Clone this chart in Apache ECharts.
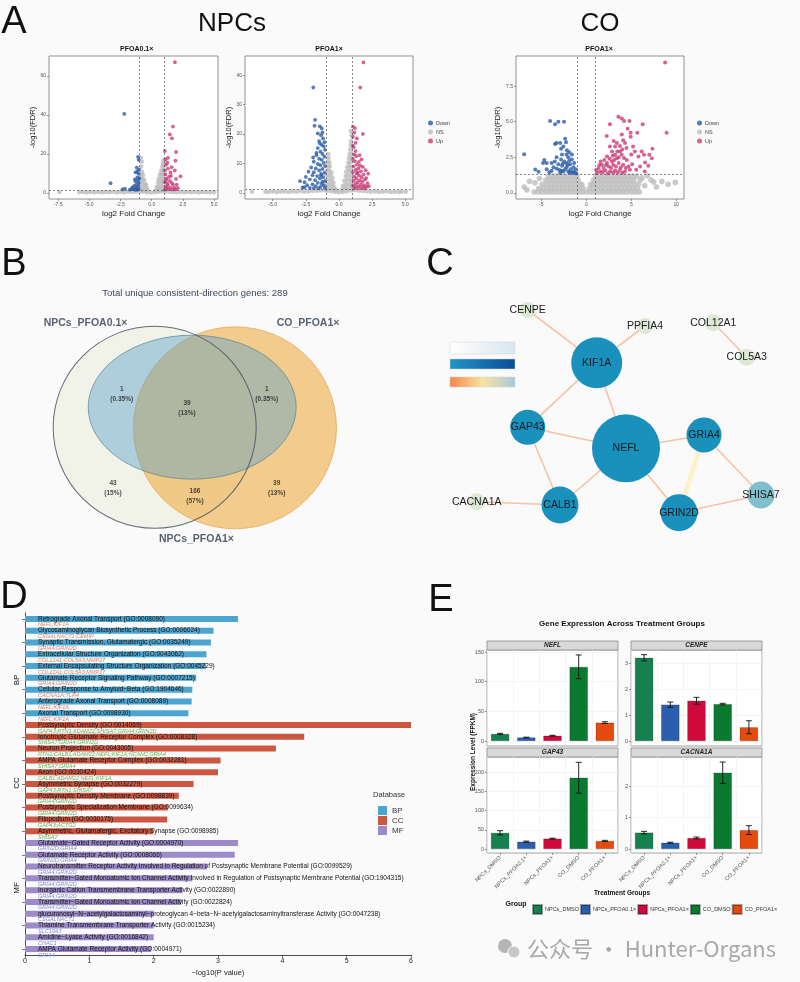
<!DOCTYPE html>
<html>
<head>
<meta charset="utf-8">
<script src="https://cdn.jsdelivr.net/npm/echarts@6/dist/echarts.min.js"></script>
<style>
  html, body { margin: 0; padding: 0; background: #fafafa; }
  #fig { width: 800px; height: 982px; }
</style>
</head>
<body>
<div id="fig"></div>
<script>
// ---------- A: volcano plots, points are [log2 fold change, -log10(FDR)]
const npc01Down = [[-2.2,40.5],[-3.3,5],[-2.35,1.8],[-2.15,2.2],[-1.75,1.7],[-1.1,18.5],[-1.05,17],[-1.2,13],[-1.3,10.5],[-1.05,9.8],[-1.15,8],[-1.1,6.5],[-1.3,5.8],[-1.05,5],[-1.2,4.2],[-1.4,3.6],[-1.1,3.2],[-1.55,2.8],[-1.25,2.5],[-1.05,2.1],[-1.45,1.9],[-1.3,1.6],[-1.15,1.7],[-1.6,2.0],[-1.0,7.5],[-1.35,7],[-1.02,12],[-1.15,11]];
const npc01Up = [[1.86,67],[1.7,34],[1.45,30],[1.62,28],[1.05,21.5],[1.95,21],[2.3,8.5],[1.85,11.5],[1.9,16.5],[1.3,18],[1.1,17.2],[1.15,14.5],[1.3,12.5],[1.5,10.5],[1.1,9.5],[1.2,7.5],[1.45,6.2],[1.6,5.2],[1.05,5.5],[1.3,3.8],[1.5,2.6],[1.8,2.6],[2.1,2.5],[1.2,2.2],[1.7,4.2],[1.4,8.3],[1.05,11.5],[1.25,15.5],[1.6,13.2],[1.95,7.2],[2.0,4.2],[1.1,3.2],[1.35,2.0],[1.65,1.8],[1.05,1.7],[1.9,1.9],[1.25,4.8],[1.55,8.8],[1.15,6.5]];
const npc01Ns = [[-7.4,0.5],[-5.8,0.4],[-5.5,0.5],[-5.2,0.3],[-4.9,0.5],[-4.6,0.4],[-4.3,0.5],[-4.0,0.3],[-3.7,0.5],[-3.4,0.4],[-3.1,0.6],[-2.8,0.3],[-2.5,0.5],[-2.2,0.4],[-1.9,0.6],[-1.6,0.5],[-1.3,0.7],[-1.0,0.8],[-0.7,0.6],[-0.4,0.3],[-0.1,0.2],[0.2,0.3],[0.5,0.5],[0.8,0.8],[1.1,0.7],[1.4,0.6],[1.7,0.5],[2.0,0.4],[2.3,0.5],[2.6,0.3],[2.9,0.5],[3.2,0.4],[3.5,0.5],[3.8,0.3],[4.1,0.5],[4.4,0.4],[4.7,0.3],[5.0,0.4],
  [-1.0,1.6],[-0.8,1.5],[-0.6,1.4],[-0.4,1.2],[-0.95,3.5],[-0.75,3.2],[-0.55,3],[-0.35,2.2],[-0.95,5.5],[-0.75,5.2],[-0.55,4.8],[-0.45,4],[-0.9,7.4],[-0.75,7.0],[-0.6,6.6],[-0.85,9.2],[-0.7,9.0],[-0.78,10.8],[-0.85,13.5],[-0.8,16],[-0.88,18],
  [0.3,1.2],[0.45,1.8],[0.6,1.6],[0.8,1.7],[0.95,1.5],[0.4,3],[0.55,3.4],[0.75,3.6],[0.95,3.3],[0.5,5.2],[0.65,5.6],[0.85,5.4],[0.97,5.8],[0.55,7.2],[0.75,7.6],[0.9,7.4],[0.65,9.3],[0.8,9.6],[0.95,9.4],[0.75,11.4],[0.9,11.6],[0.85,13.4],[0.95,13.6],[0.9,15.2],[0.95,16.8]];

const npc1Down = [[-1.94,35.8],[-1.8,24.8],[-1.85,22.8],[-1.45,22.6],[-1.3,21.9],[-1.25,20.5],[-1.35,19.6],[-1.2,18.5],[-1.5,17.6],[-1.1,17.2],[-1.3,16.3],[-1.15,15.8],[-1.6,15.2],[-1.05,14.6],[-1.4,14],[-1.25,13.2],[-1.7,12.8],[-1.1,12.3],[-1.5,11.6],[-1.3,11.2],[-1.9,10.6],[-1.15,10.2],[-1.6,9.8],[-1.4,9.4],[-1.05,9.1],[-2.1,8.6],[-1.75,8.3],[-1.25,8.1],[-1.5,7.6],[-2.3,7.2],[-1.9,7.0],[-1.1,6.8],[-1.35,6.4],[-2.0,6.0],[-1.65,5.7],[-2.5,5.4],[-1.2,5.3],[-1.45,4.9],[-2.2,4.6],[-1.8,4.3],[-2.94,4.0],[-1.05,4.0],[-2.6,3.6],[-1.6,3.4],[-1.3,3.1],[-2.0,2.9],[-2.4,2.6],[-1.15,2.5],[-1.75,2.3],[-2.6,1.9],[-1.4,2.0],[-2.2,1.7],[-1.9,1.6],[-1.05,1.7],[-1.55,1.5],[-2.75,1.8],[-1.6,20.2],[-1.7,13.6],[-1.95,12],[-1.45,16.8],[-1.35,5.9],[-1.25,3.8]];
const npc1Up = [[1.84,44.3],[1.6,35.8],[1.8,20],[1.05,22.5],[1.2,22],[1.15,20.5],[1.05,19],[1.35,18.5],[1.25,17],[1.05,16],[1.1,15.5],[1.15,13],[1.3,12.5],[1.05,11.5],[1.2,10.7],[1.5,10.5],[1.35,9.6],[1.6,9.2],[1.1,9.0],[1.8,8.8],[1.45,8.3],[1.25,7.8],[2.0,7.7],[1.65,7.3],[1.05,7.0],[1.35,6.6],[2.2,6.5],[1.85,6.2],[1.5,5.9],[1.15,5.6],[1.7,5.3],[2.05,5.0],[1.3,4.9],[1.95,4.5],[1.55,4.2],[1.1,4.1],[1.75,3.8],[1.4,3.5],[2.15,3.3],[1.25,3.0],[1.65,2.8],[1.9,2.6],[1.05,2.5],[1.45,2.2],[2.1,2.1],[1.8,1.9],[1.3,1.7],[1.6,1.6],[2.25,2.3],[1.15,1.8],[1.95,1.5],[1.4,6.9],[1.7,11.4],[1.25,14.2],[1.55,12.8]];
const npc1Ns = [[-6.57,0.4],[-5.55,0.4],[-5.3,0.3],[-5.0,0.5],[-4.7,0.3],[-4.4,0.4],[-4.1,0.5],[-3.8,0.3],[-3.5,0.5],[-3.2,0.4],[-2.9,0.6],[-2.6,0.4],[-2.3,0.5],[-2.0,0.6],[-1.7,0.7],[-1.4,0.8],[-1.15,0.9],[-0.9,0.7],[-0.6,0.5],[-0.3,0.3],[0,0.2],[0.3,0.3],[0.6,0.5],[0.9,0.8],[1.2,0.9],[1.5,0.7],[1.8,0.6],[2.1,0.5],[2.4,0.4],[2.7,0.5],[3.0,0.3],[3.3,0.4],[3.6,0.5],[3.9,0.3],[4.2,0.4],[4.5,0.3],[4.7,0.4],[5.03,0.4],
  [-1.0,1.5],[-0.8,1.6],[-0.6,1.3],[-0.4,1.1],[-0.2,0.9],[-0.95,2.8],[-0.75,3],[-0.55,2.6],[-0.35,2.0],[-0.95,4.3],[-0.75,4.5],[-0.55,4.1],[-0.42,3.4],[-0.9,5.9],[-0.7,6.0],[-0.5,5.2],[-0.92,7.4],[-0.72,7.5],[-0.57,6.8],[-0.85,8.9],[-0.7,9.0],[-0.85,10.5],[-0.72,10.3],[-0.8,11.8],[-0.82,13.2],
  [0.2,1],[0.4,1.6],[0.6,1.5],[0.8,1.7],[0.98,1.5],[0.3,2.4],[0.5,2.9],[0.7,3],[0.9,2.8],[0.4,4.1],[0.6,4.4],[0.8,4.5],[0.95,4.2],[0.5,5.7],[0.7,6],[0.9,5.8],[0.55,7.2],[0.75,7.5],[0.92,7.3],[0.62,8.7],[0.8,9],[0.95,8.8],[0.7,10.2],[0.88,10.5],[0.75,11.7],[0.92,12],[0.8,13.2],[0.95,13.4],[0.85,14.7],[0.9,16.2],[0.92,17.5],[0.96,19.6],[0.9,21]];

const coDown = [[-4.02,5.05],[-3.47,4.83],[-3.1,5.0],[-2.47,5.0],[-6.9,2.72],[-5.67,1.64],[-5.3,1.48],[-4.67,2.3],[-4.4,2.1],[-3.47,3.43],[-2.9,3.5],[-2.35,3.8],[-2.25,3.55],[-2.55,3.25],[-1.6,2.7],[-2.2,2.7],[-2.7,2.7],[-3.3,2.5],[-3.85,2.1],[-3.65,1.8],[-3.1,2.0],[-2.7,1.9],[-2.2,2.1],[-1.8,2.0],[-1.43,1.8],[-2.0,1.5],[-2.55,1.5],[-2.9,1.4],[-3.3,1.7],[-2.2,1.8],[-1.6,1.4],[-1.25,1.4],[-3.85,1.55],[-4.4,1.65],[-4.8,2.1],[-1.6,2.35],[-2.0,2.5],[-1.15,1.65],[-2.45,2.2],[-1.9,2.25],[-2.8,2.35],[-3.0,1.6],[-2.35,1.65],[-1.75,1.65],[-1.35,2.1],[-2.05,1.95],[-2.6,2.05],[-3.5,2.2],[-1.1,1.35],[-1.45,1.5],[-2.75,1.55],[-1.85,1.4],[-4.1,1.45],[-2.15,3.0],[-2.8,3.1],[-3.3,3.5],[-1.9,2.85]];
const coUp = [[8.76,9.18],[8.93,4.23],[3.57,5.35],[3.94,5.23],[4.2,5.05],[4.8,5.05],[2.63,4.83],[6.27,4.83],[5.67,4.23],[4.93,4.23],[2.27,4.0],[4.93,3.95],[4.1,3.7],[3.2,3.25],[3.74,3.3],[2.63,3.25],[4.47,3.15],[5.2,3.25],[6.16,2.9],[7.35,3.1],[6.42,2.67],[7.0,2.67],[6.53,2.13],[7.28,2.43],[5.8,2.55],[5.98,1.85],[5.55,1.62],[4.5,2.3],[3.94,2.67],[3.4,2.43],[2.85,2.2],[2.3,2.1],[1.74,1.97],[1.37,1.74],[1.93,1.74],[2.5,1.85],[3.0,1.97],[3.6,2.1],[4.1,1.97],[4.7,1.85],[1.55,1.5],[2.1,1.57],[2.65,1.5],[3.2,1.57],[3.74,1.62],[4.3,1.5],[4.85,1.62],[3.2,2.67],[3.74,2.9],[3.4,3.5],[4.3,3.5],[2.85,2.9],[2.3,2.55],[1.2,1.4],[1.8,1.45],[2.4,1.38],[3.0,1.42],[3.5,1.45],[4.0,1.4],[2.0,2.3],[2.6,2.4],[3.1,2.3],[3.6,2.5],[4.2,2.45],[1.6,2.2],[2.2,1.95],[2.75,1.75],[3.3,1.85],[3.85,1.8],[4.4,1.75],[5.1,2.0],[1.1,1.6],[1.45,1.95],[2.95,2.6],[3.45,2.9],[4.0,3.05],[5.0,2.7],[6.5,1.5],[6.9,1.9],[5.4,2.9],[3.05,3.65],[3.95,4.1],[4.6,4.5]];
// not significant genes in CO, typed row by row: [-log10 FDR, log2FC values]
const coNsRows = [
  [0.05, [-5.8,-5.35,-4.9,-4.45,-4.0,-3.55,-3.1,-2.65,-2.2,-1.75,-1.3,-0.85,-0.4,0.05,0.5,0.95,1.4,1.85,2.3,2.75,3.2,3.65,4.1,4.55,5.0,5.45,5.9]],
  [0.3, [-5.3,-4.8,-4.35,-3.9,-3.45,-3.0,-2.55,-2.1,-1.65,-1.2,-0.75,-0.35,0.35,0.75,1.2,1.65,2.1,2.55,3.0,3.45,3.9,4.35,4.8,5.25,5.7]],
  [0.6, [-4.9,-4.4,-3.95,-3.5,-3.05,-2.6,-2.15,-1.7,-1.25,-0.8,-0.5,0.5,0.8,1.25,1.7,2.15,2.6,3.05,3.5,3.95,4.4,4.85,5.3,5.8]],
  [0.9, [-4.5,-4.05,-3.6,-3.15,-2.7,-2.25,-1.8,-1.35,-0.9,0.8,1.25,1.7,2.15,2.6,3.05,3.5,3.95,4.4,4.85,5.3,6.0]],
  [1.18, [-4.2,-3.75,-3.3,-2.85,-2.4,-1.95,-1.5,-1.05,1.05,1.5,1.95,2.4,2.85,3.3,3.75,4.2,4.65,5.1,5.6]]
];
const coNsExtra = [[-6.9,0.4],[-6.3,0.8],[-5.7,0.7],[-6.6,0.2],[6.8,1.2],[7.2,0.9],[7.5,0.75],[8.4,0.8],[9.1,0.6],[9.9,0.73],[6.5,0.5],[7.8,0.4],[-5.2,1.0],[6.2,1.05]];
const coNs = coNsRows.flatMap(([y, xs]) => xs.map(x => [x, y])).concat(coNsExtra);

// ---------- B: Venn
const vennSets = ['NPCs_PFOA0.1×', 'NPCs_PFOA1×', 'CO_PFOA1×'];
// regions: A∩B, A∩B∩C, B∩C, A only, A∩C, C only
const vennCounts = [1, 39, 1, 43, 166, 39];

// ---------- C: PPI network
const netNodes = ['NEFL', 'KIF1A', 'GAP43', 'GRIA4', 'CALB1', 'GRIN2D', 'SHISA7', 'CENPE', 'PPFIA4', 'COL12A1', 'COL5A3', 'CACNA1A'];
const netEdges = [['CENPE','KIF1A'],['PPFIA4','KIF1A'],['COL12A1','COL5A3'],['KIF1A','GAP43'],['KIF1A','NEFL'],['GAP43','NEFL'],['GAP43','CALB1'],['CALB1','NEFL'],['CACNA1A','CALB1'],['NEFL','GRIA4'],['NEFL','GRIN2D'],['GRIA4','GRIN2D'],['GRIA4','SHISA7'],['GRIN2D','SHISA7']];

// ---------- D: GO enrichment
const goTerms = [
  'Retrograde Axonal Transport (GO:0008090)',
  'Glycosaminoglycan Biosynthetic Process (GO:0006024)',
  'Synaptic Transmission, Glutamatergic (GO:0035249)',
  'Extracellular Structure Organization (GO:0043062)',
  'External Encapsulating Structure Organization (GO:0045229)',
  'Glutamate Receptor Signaling Pathway (GO:0007215)',
  'Cellular Response to Amyloid−Beta (GO:1904646)',
  'Anterograde Axonal Transport (GO:0008089)',
  'Axonal Transport (GO:0098930)',
  'Postsynaptic Density (GO:0014069)',
  'Ionotropic Glutamate Receptor Complex (GO:0008328)',
  'Neuron Projection (GO:0043005)',
  'AMPA Glutamate Receptor Complex (GO:0032281)',
  'Axon (GO:0030424)',
  'Asymmetric Synapse (GO:0032279)',
  'Postsynaptic Density Membrane (GO:0098839)',
  'Postsynaptic Specialization Membrane (GO:0099634)',
  'Filopodium (GO:0030175)',
  'Asymmetric, Glutamatergic, Excitatory Synapse (GO:0098985)',
  'Glutamate−Gated Receptor Activity (GO:0004970)',
  'Glutamate Receptor Activity (GO:0008066)',
  'Neurotransmitter Receptor Activity Involved in Regulation of Postsynaptic Membrane Potential (GO:0099529)',
  'Transmitter−Gated Monoatomic Ion Channel Activity Involved in Regulation of Postsynaptic Membrane Potential (GO:1904315)',
  'Inorganic Cation Transmembrane Transporter Activity (GO:0022890)',
  'Transmitter−Gated Monoatomic Ion Channel Activity (GO:0022824)',
  'glucuronosyl−N−acetylgalactosaminyl−proteoglycan 4−beta−N−acetylgalactosaminyltransferase Activity (GO:0047238)',
  'Thiamine Transmembrane Transporter Activity (GO:0015234)',
  'Amidine−Lyase Activity (GO:0016842)',
  'AMPA Glutamate Receptor Activity (GO:0004971)'
];
const goGenes = ['NEFL;KIF1A','CSGALNACT1;CEMIP','GRIA4;GRIN2D','COL12A1;COL5A3;MMP17','COL12A1;COL5A3;MMP17','GRIA4;GRIN2D','CACNA1A;TLR4','NEFL;KIF1A','NEFL;KIF1A',
  'GAP43;RTN1;ADAM22;SHISA7;GRIA4;GRIN2D','SHISA7;GRIA4;GRIN2D','RTN1;CALB1;ADAM22;NEFL;KIF1A;NCAM2;GRIA4','SHISA7;GRIA4','CALB1;ADAM22;NEFL;KIF1A','GAP43;RTN1;SHISA7','GRIA4;GRIN2D','GRIA4;GRIN2D','GAP43;ACTG2','SHISA7',
  'GRIN2D;GRIA4','GRIN2D;GRIA4','GRIA4;GRIN2D','GRIA4;GRIN2D','GRIA4;GRIN2D','GRIA4;GRIN2D','CSGALNACT1','SLC19A3','CHAC1','GRIA4'];
const goValues = [3.31, 2.93, 2.89, 2.82, 2.81, 2.66, 2.6, 2.59, 2.54, 6.0, 4.34, 3.9, 3.04, 3.0, 2.62, 2.39, 2.22, 2.21, 1.99, 3.31, 3.26, 2.83, 2.6, 2.45, 2.43, 2.0, 2.0, 2.0, 1.96];
const goDb = ['BP','BP','BP','BP','BP','BP','BP','BP','BP','CC','CC','CC','CC','CC','CC','CC','CC','CC','CC','MF','MF','MF','MF','MF','MF','MF','MF','MF','MF'];
const dbNames = ['BP', 'CC', 'MF'];

// ---------- E: expression (FPKM), mean and error
const exprGroups = ['NPCs_DMSO', 'NPCs_PFOA0.1×', 'NPCs_PFOA1×', 'CO_DMSO', 'CO_PFOA1×'];
const exprGenes = ['NEFL', 'CENPE', 'GAP43', 'CACNA1A'];
const neflMean = [12, 6, 9, 125, 31];
const neflErr = [1, 0.5, 0.6, 20, 1.5];
const cenpeMean = [3.2, 1.4, 1.55, 1.42, 0.53];
const cenpeErr = [0.12, 0.1, 0.13, 0.03, 0.25];
const gap43Mean = [42, 19, 27, 185, 21];
const gap43Err = [5.5, 1.5, 1, 40, 1.5];
const cacna1aMean = [0.52, 0.2, 0.35, 2.42, 0.6];
const cacna1aErr = [0.04, 0.015, 0.03, 0.34, 0.14];

// ================= layout & style =================
const FONT = 'Liberation Sans, Arial, sans-serif';
const colDown = '#2b5ca8', colNs = '#bdbdbd', colUp = '#cc3b78';
const dbColors = { BP: '#4ca5ce', CC: '#cb5642', MF: '#9d8ac9' };
const dbGeneColors = { BP: '#e8806c', CC: '#5db75d', MF: '#7d92cc' };
const exprColors = ['#17804f', '#2b5fad', '#cf0b3e', '#0b7a31', '#e54b0f'];

const volcanoGrids = [
  { left: 49, top: 56, width: 169, height: 143 },
  { left: 245, top: 56, width: 168, height: 143 },
  { left: 516, top: 56, width: 168, height: 143 }
];
const volcanoAxes = [
  { x: [-8.23, 5.31], y: [-3.1, 70.2], xt: [-7.5, -5, -2.5, 0, 2.5, 5], yt: [0, 20, 40, 60], xf: v => v.toFixed(1), yf: v => v },
  { x: [-7.09, 5.58], y: [-2.1, 46.5], xt: [-5, -2.5, 0, 2.5, 5], yt: [0, 10, 20, 30, 40], xf: v => v.toFixed(1), yf: v => v },
  { x: [-7.81, 10.86], y: [-0.44, 9.63], xt: [-5, 0, 5, 10], yt: [0, 2.5, 5, 7.5], xf: v => v, yf: v => v.toFixed(1) }
];
const volcanoData = [[npc01Down, npc01Ns, npc01Up], [npc1Down, npc1Ns, npc1Up], [coDown, coNs, coUp]];
const volcanoSizes = [[3.8, 4.6], [3.8, 4.6], [4.0, 5.6]]; // [coloured, grey]

const vennLayout = {
  shapes: [{ c: [154.7, 187.3], s: [203, 202] }, { c: [192.2, 167.2], s: [208, 144] }, { c: [235, 187.8], s: [203, 202] }],
  regions: [[121.7, 154], [187, 168], [266.7, 154], [113, 248], [195, 256], [276.7, 248]],
  setLabels: [[85.5, 83], [196.5, 299], [308, 83]]
};
const netLayout = {
  NEFL: [226, 208.3, 68], KIF1A: [196.7, 122.7, 51], GAP43: [127.7, 187.3, 35], GRIA4: [304, 195, 35],
  CALB1: [160, 265, 37], GRIN2D: [279, 272.7, 37], SHISA7: [361, 255, 27], CENPE: [127.7, 70, 16],
  PPFIA4: [245, 86, 16], COL12A1: [313.3, 82.7, 17], COL5A3: [346.7, 117.3, 17], CACNA1A: [76.7, 261.7, 17]
};
const facetGrids = [
  { left: 487, top: 650, width: 131, height: 96 },
  { left: 631, top: 650, width: 131, height: 96 },
  { left: 487, top: 757, width: 131, height: 96 },
  { left: 631, top: 757, width: 131, height: 96 }
];
const facetY = [
  { r: [-8.4, 153.4], t: [0, 50, 100, 150] },
  { r: [-0.19, 3.5], t: [0, 1, 2, 3] },
  { r: [-10.4, 239], t: [0, 50, 100, 150, 200] },
  { r: [-0.127, 2.92], t: [0, 1, 2] }
];
const facetMeans = [neflMean, cenpeMean, gap43Mean, cacna1aMean];
const facetErrs = [neflErr, cenpeErr, gap43Err, cacna1aErr];

// ================= build option =================
const grids = [], xAxes = [], yAxes = [], series = [], g = [];

// A
volcanoGrids.forEach((gr, k) => {
  const ax = volcanoAxes[k];
  grids.push(Object.assign({ show: true, backgroundColor: '#fff', borderColor: '#777', borderWidth: 0.8, outerBoundsMode: 'none' }, gr));
  xAxes.push({
    type: 'value', gridIndex: k, min: ax.x[0], max: ax.x[1],
    name: 'log2 Fold Change', nameLocation: 'middle', nameGap: 11,
    nameTextStyle: { fontSize: 8, color: '#222', fontFamily: FONT },
    axisLine: { show: false, onZero: false },
    axisTick: { show: true, length: 2, customValues: ax.xt, lineStyle: { color: '#555', width: 0.6 } },
    axisLabel: { customValues: ax.xt, fontSize: 5, color: '#555', margin: 3, formatter: ax.xf, fontFamily: FONT },
    splitLine: { show: false }
  });
  yAxes.push({
    type: 'value', gridIndex: k, min: ax.y[0], max: ax.y[1],
    name: '-log10(FDR)', nameLocation: 'middle', nameGap: 9,
    nameTextStyle: { fontSize: 7.5, color: '#222', fontFamily: FONT },
    axisLine: { show: false, onZero: false },
    axisTick: { show: true, length: 2, customValues: ax.yt, lineStyle: { color: '#555', width: 0.6 } },
    axisLabel: { customValues: ax.yt, fontSize: 5, color: '#555', margin: 3, formatter: ax.yf, fontFamily: FONT },
    splitLine: { show: false }
  });
  const [sz, szNs] = volcanoSizes[k];
  const [dn, ns, up] = volcanoData[k];
  series.push({
    type: 'scatter', name: 'NS', xAxisIndex: k, yAxisIndex: k, data: ns, symbolSize: szNs,
    itemStyle: { color: colNs }, silent: true, z: 2,
    markLine: {
      silent: true, symbol: 'none', label: { show: false },
      lineStyle: { color: '#555', type: [2, 2], width: 0.7 },
      data: [{ xAxis: -1 }, { xAxis: 1 }, { yAxis: 1.3 }]
    }
  });
  series.push({ type: 'scatter', name: 'Down', xAxisIndex: k, yAxisIndex: k, data: dn, symbolSize: sz, itemStyle: { color: colDown }, silent: true, z: 3 });
  series.push({ type: 'scatter', name: 'Up', xAxisIndex: k, yAxisIndex: k, data: up, symbolSize: sz, itemStyle: { color: colUp }, silent: true, z: 3 });
});

// B: Venn (grid 3, axes in px offsets from panel corner)
grids.push({ left: 0, top: 240, width: 400, height: 340, outerBoundsMode: 'none' });
xAxes.push({ type: 'value', gridIndex: 3, min: 0, max: 400, show: false });
yAxes.push({ type: 'value', gridIndex: 3, min: 0, max: 340, inverse: true, show: false });
const vennStyles = [
  { color: '#eff1e5', borderColor: 'transparent', borderWidth: 0 },
  { color: 'rgba(90,160,200,0.55)', borderColor: '#4a7d94', borderWidth: 0.8 },
  { color: 'rgba(240,176,80,0.8)', borderColor: 'rgba(225,150,50,0.9)', borderWidth: 0.8 }
];
[0, 2, 1].forEach((i, z) => {
  series.push({
    type: 'scatter', xAxisIndex: 3, yAxisIndex: 3, silent: true, z: 1 + z,
    data: [{ value: vennLayout.shapes[i].c, symbolSize: vennLayout.shapes[i].s, itemStyle: vennStyles[i] }]
  });
});
series.push({
  type: 'scatter', xAxisIndex: 3, yAxisIndex: 3, silent: true, z: 5,
  data: [{ value: vennLayout.shapes[0].c, symbolSize: vennLayout.shapes[0].s,
    itemStyle: { color: 'transparent', borderColor: '#3f4b5c', borderWidth: 1 } }]
});
const vennTotal = vennCounts.reduce((a, b) => a + b, 0);
const pct = c => { const p = c / vennTotal * 100; return p < 1 ? p.toFixed(2) + '%' : Math.round(p) + '%'; };
series.push({
  type: 'scatter', xAxisIndex: 3, yAxisIndex: 3, silent: true, z: 6, symbolSize: 0,
  data: vennCounts.map((c, i) => ({ value: vennLayout.regions[i], name: c + '\n(' + pct(c) + ')' })),
  label: { show: true, position: 'inside', formatter: p => p.name, fontSize: 6.5, fontWeight: 'bold', lineHeight: 10, color: '#222', fontFamily: FONT }
});
series.push({
  type: 'scatter', xAxisIndex: 3, yAxisIndex: 3, silent: true, z: 6, symbolSize: 0,
  data: vennSets.map((s, i) => ({ value: vennLayout.setLabels[i], name: s })),
  label: { show: true, position: 'inside', formatter: p => p.name, fontSize: 10.5, fontWeight: 'bold', color: '#2d3a4c', fontFamily: FONT }
});

// C: network (grid 4)
grids.push({ left: 400, top: 240, width: 400, height: 340, outerBoundsMode: 'none' });
xAxes.push({ type: 'value', gridIndex: 4, min: 0, max: 400, show: false });
yAxes.push({ type: 'value', gridIndex: 4, min: 0, max: 340, inverse: true, show: false });
const degree = {};
netEdges.forEach(([a, b]) => { degree[a] = (degree[a] || 0) + 1; degree[b] = (degree[b] || 0) + 1; });
series.push({
  type: 'graph', layout: 'none', coordinateSystem: 'cartesian2d', xAxisIndex: 4, yAxisIndex: 4, silent: true, z: 3,
  data: netNodes.map(n => ({
    name: n, value: [netLayout[n][0], netLayout[n][1]], symbolSize: netLayout[n][2],
    itemStyle: { color: degree[n] >= 3 ? '#1a90bd' : degree[n] === 2 ? '#82bfcc' : '#dde8d4' }
  })),
  links: netEdges.map(([a, b]) => (a === 'GRIA4' && b === 'GRIN2D')
    ? { source: a, target: b, lineStyle: { width: 5, color: '#fbf1cf' } }
    : { source: a, target: b }),
  lineStyle: { color: '#f6c3a6', width: 1.6, opacity: 1, curveness: 0 },
  label: { show: true, position: 'inside', fontSize: 10.5, color: '#1a1a1a', fontFamily: FONT },
  emphasis: { disabled: true }
});

// D: GO bars (grid 5)
grids.push({ left: 25, top: 613, width: 386, height: 342, outerBoundsMode: 'none' });
xAxes.push({
  type: 'value', gridIndex: 5, min: 0, max: 6, interval: 1,
  name: '−log10(P value)', nameLocation: 'middle', nameGap: 14,
  nameTextStyle: { fontSize: 7.5, color: '#222', fontFamily: FONT },
  axisLine: { show: true, onZero: false, lineStyle: { color: '#222', width: 0.8 } },
  axisTick: { show: true, length: 3, lineStyle: { color: '#222', width: 0.6 } },
  axisLabel: { fontSize: 7, color: '#222', margin: 3, fontFamily: FONT },
  splitLine: { show: false }
});
yAxes.push({
  type: 'category', gridIndex: 5, data: goTerms, inverse: true,
  axisLine: { show: true, onZero: false, lineStyle: { color: '#222', width: 0.8 } },
  axisTick: { show: true, length: 3, alignWithLabel: true, lineStyle: { color: '#222', width: 0.6 } },
  axisLabel: { show: false }, splitLine: { show: false }
});
dbNames.forEach(db => {
  series.push({
    type: 'bar', name: db, xAxisIndex: 5, yAxisIndex: 5, stack: 'go', barWidth: 6, silent: true,
    itemStyle: { color: dbColors[db] },
    data: goValues.map((v, i) => goDb[i] === db ? v : '-'),
    label: {
      show: true, position: [13, -0.5], align: 'left', verticalAlign: 'top',
      formatter: p => '{t|' + goTerms[p.dataIndex] + '}\n{g|' + goGenes[p.dataIndex] + '}',
      rich: {
        t: { fontSize: 6.5, lineHeight: 7, color: '#111', fontFamily: FONT },
        g: { fontSize: 5.5, lineHeight: 5, color: dbGeneColors[db], fontStyle: 'italic', fontFamily: FONT }
      }
    }
  });
});

// E: facets (grids 6-9)
function errRender(params, api) {
  const i = api.value(0);
  const lo = api.coord([i, api.value(1)]);
  const hi = api.coord([i, api.value(2)]);
  const w = 3, st = { stroke: '#111', lineWidth: 0.9 };
  return { type: 'group', children: [
    { type: 'line', shape: { x1: lo[0], y1: lo[1], x2: hi[0], y2: hi[1] }, style: st },
    { type: 'line', shape: { x1: lo[0] - w, y1: lo[1], x2: lo[0] + w, y2: lo[1] }, style: st },
    { type: 'line', shape: { x1: hi[0] - w, y1: hi[1], x2: hi[0] + w, y2: hi[1] }, style: st }
  ] };
}
facetGrids.forEach((gr, f) => {
  const gi = 6 + f, bottomRow = f >= 2;
  grids.push(Object.assign({ show: true, backgroundColor: '#fff', borderColor: '#8c8c8c', borderWidth: 0.8, outerBoundsMode: 'none' }, gr));
  xAxes.push({
    type: 'category', gridIndex: gi, data: exprGroups,
    axisLine: { show: false, onZero: false },
    axisTick: { show: bottomRow, length: 2, alignWithLabel: true, lineStyle: { color: '#555', width: 0.6 } },
    axisLabel: { show: bottomRow, rotate: 45, fontSize: 5.5, color: '#555', margin: 4, interval: 0, fontFamily: FONT },
    splitLine: { show: true, lineStyle: { color: '#efefef', width: 0.6 } }
  });
  yAxes.push({
    type: 'value', gridIndex: gi, min: facetY[f].r[0], max: facetY[f].r[1],
    axisLine: { show: false, onZero: false },
    axisTick: { show: true, length: 2, customValues: facetY[f].t, lineStyle: { color: '#555', width: 0.6 } },
    axisLabel: { customValues: facetY[f].t, fontSize: 5.5, color: '#555', margin: 3, fontFamily: FONT },
    splitLine: { show: true, lineStyle: { color: '#ebebeb', width: 0.6 } }
  });
  exprGroups.forEach((name, k) => {
    series.push({
      type: 'bar', name, xAxisIndex: gi, yAxisIndex: gi, stack: 'f' + f, barWidth: '70%', silent: true,
      itemStyle: { color: exprColors[k], borderColor: 'rgba(0,0,0,0.35)', borderWidth: 0.6 },
      data: facetMeans[f].map((m, i) => i === k ? m : '-')
    });
  });
  series.push({
    type: 'custom', xAxisIndex: gi, yAxisIndex: gi, silent: true, z: 5, renderItem: errRender,
    encode: { x: 0, y: [1, 2] },
    data: facetMeans[f].map((m, i) => [i, m - facetErrs[f][i], m + facetErrs[f][i]])
  });
  g.push({ type: 'rect', shape: { x: gr.left, y: gr.top - 9, width: gr.width, height: 9 },
    style: { fill: '#d9d9d9', stroke: '#8c8c8c', lineWidth: 0.8 } });
  g.push({ type: 'text', x: gr.left + gr.width / 2, y: gr.top - 4.5,
    style: { text: exprGenes[f], fontSize: 6.5, fontWeight: 'bold', fontStyle: 'italic', fill: '#222', font: 'italic bold 6.5px ' + FONT, align: 'center', verticalAlign: 'middle' } });
});

// ---- page texts
const txt = (text, x, y, size, extra) => Object.assign({ type: 'text', x, y,
  style: Object.assign({ text, fontSize: size, fontFamily: FONT, fill: '#111', align: 'center', verticalAlign: 'middle' }, extra || {}) });
g.push(txt('A', 14, 23, 38), txt('B', 14, 265, 38), txt('C', 440, 265, 38), txt('D', 14, 598, 38), txt('E', 441, 601, 38));
g.push(txt('NPCs', 232, 24, 26), txt('CO', 600, 24, 26));
g.push(txt('PFOA0.1×', 136.7, 49.5, 7, { fontWeight: 'bold' }), txt('PFOA1×', 329, 49.5, 7, { fontWeight: 'bold' }), txt('PFOA1×', 599, 49.5, 7, { fontWeight: 'bold' }));
g.push(txt('Total unique consistent-direction genes: ' + vennTotal, 195, 293, 9.5, { fill: '#3c4858' }));
// network colour legend
g.push({ type: 'rect', shape: { x: 450, y: 342, width: 65, height: 12 }, style: { fill: new echarts.graphic.LinearGradient(0, 0, 1, 0, [{ offset: 0, color: '#ffffff' }, { offset: 1, color: '#d8e6ef' }]), stroke: '#d0d0d0', lineWidth: 0.5 } });
g.push({ type: 'rect', shape: { x: 450, y: 359, width: 65, height: 10 }, style: { fill: new echarts.graphic.LinearGradient(0, 0, 1, 0, [{ offset: 0, color: '#2196c6' }, { offset: 1, color: '#084c98' }]), stroke: '#d0d0d0', lineWidth: 0.5 } });
g.push({ type: 'rect', shape: { x: 450, y: 377, width: 65, height: 10 }, style: { fill: new echarts.graphic.LinearGradient(0, 0, 1, 0, [{ offset: 0, color: '#f7834a' }, { offset: 0.5, color: '#f9e4a2' }, { offset: 1, color: '#a8c8dc' }]), stroke: '#d0d0d0', lineWidth: 0.5 } });
// GO side texts
['BP', 'CC', 'MF'].forEach((t, i) => {
  const el = txt(t, 17, [680, 783, 888][i], 8);
  el.rotation = Math.PI / 2;
  g.push(el);
});
g.push(txt('Database', 373, 795, 7.5, { align: 'left', fill: '#333' }));
// E texts
g.push(txt('Gene Expression Across Treatment Groups', 622, 624, 8, { fontWeight: 'bold' }));
const yName = txt('Expression Level (FPKM)', 473, 752, 6.5, { fontWeight: 'bold' });
yName.rotation = Math.PI / 2;
g.push(yName);
g.push(txt('Treatment Groups', 622, 893, 6.5, { fontWeight: 'bold' }));
g.push(txt('Group', 516, 904, 7, { fontWeight: 'bold' }));
// watermark
g.push({ type: 'circle', shape: { cx: 505, cy: 946, r: 7 }, style: { fill: '#b5b5b5' } });
g.push({ type: 'circle', shape: { cx: 514, cy: 952, r: 6 }, style: { fill: '#c8c8c8', stroke: '#fafafa', lineWidth: 1 } });
g.push(txt('公众号 · Hunter-Organs', 776, 949, 22, { align: 'right', fill: '#a8a8a8', fontFamily: 'Noto Sans CJK SC, Noto Sans, sans-serif' }));

const legendBase = { orient: 'vertical', icon: 'circle', itemWidth: 5, itemHeight: 5, itemGap: 3, selectedMode: false,
  textStyle: { fontSize: 5.5, color: '#444', fontFamily: FONT, padding: [0, 0, 0, -2] } };

const option = {
  backgroundColor: '#fafafa',
  animation: false,
  grid: grids, xAxis: xAxes, yAxis: yAxes, series,
  legend: [
    Object.assign({ left: 423, top: 115, data: ['Down', 'NS', 'Up'] }, legendBase),
    Object.assign({ left: 692, top: 115, data: ['Down', 'NS', 'Up'] }, legendBase),
    { left: 373, top: 801, orient: 'vertical', icon: 'rect', itemWidth: 9, itemHeight: 9, itemGap: 1, selectedMode: false,
      data: dbNames, textStyle: { fontSize: 8, color: '#333', fontFamily: FONT } },
    { left: 527, top: 899, orient: 'horizontal', icon: 'rect', itemWidth: 9, itemHeight: 9, itemGap: 1, selectedMode: false,
      data: exprGroups, textStyle: { fontSize: 5.5, color: '#333', fontFamily: FONT, padding: [0, 0, 0, -2] } }
  ],
  graphic: { elements: g }
};

const chart = echarts.init(document.getElementById('fig'), null, { renderer: 'canvas' });
chart.setOption(option);
</script>
</body>
</html>
